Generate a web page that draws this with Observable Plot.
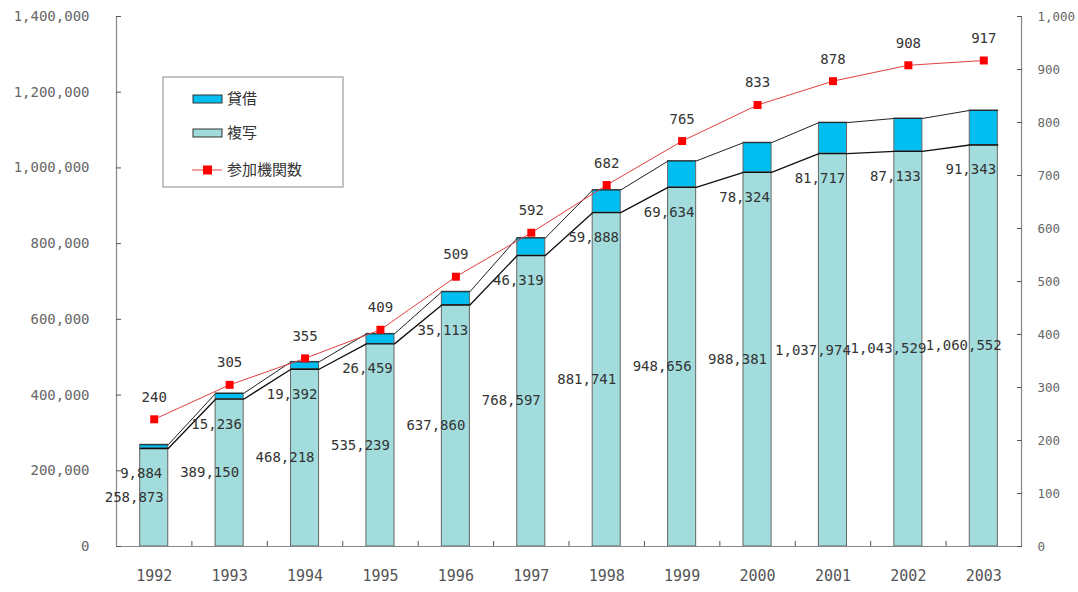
<!DOCTYPE html>
<html><head><meta charset="utf-8">
<script src="https://cdn.jsdelivr.net/npm/d3@7"></script>
<script src="https://cdn.jsdelivr.net/npm/@observablehq/plot@0.6"></script>
<style>body{margin:0;background:#fff}</style>
</head><body><div id="chart"></div>
<script>
const years = [1992,1993,1994,1995,1996,1997,1998,1999,2000,2001,2002,2003];
const copy = [258873,389150,468218,535239,637860,768597,881741,948656,988381,1037974,1043529,1060552]; // 複写
const loan = [9884,15236,19392,26459,35113,46319,59888,69634,78324,81717,87133,91343]; // 貸借
const members = [240,305,355,409,509,592,682,765,833,878,908,917]; // 参加機関数
const seriesNames = ["貸借","複写","参加機関数"];
const leftTicks = [0,200000,400000,600000,800000,1000000,1200000,1400000];
const rightTicks = [0,100,200,300,400,500,600,700,800,900,1000];

const Y_MAX = 1400000, R_MAX = 1000, K = Y_MAX / R_MAX;
const HW = 0.186;
const fmt = d3.format(",");
const rows = years.map((year, i) => ({year, copy: copy[i], loan: loan[i], total: copy[i] + loan[i], members: members[i]}));
const edge = rows.flatMap(d => [{...d, x: d.year - HW}, {...d, x: d.year + HW}]);
const C_COPY = "#a2dcdc", C_LOAN = "#00bff0", C_RED = "#ff0000";

const plot = Plot.plot({
  width: 1078, height: 592,
  marginLeft: 116, marginRight: 57, marginTop: 16, marginBottom: 46,
  style: {fontFamily: "'DejaVu Sans Mono', monospace", fontSize: "14px", color: "#555", background: "#fff"},
  x: {type: "linear", domain: [years[0] - 0.5, years[years.length - 1] + 0.5]},
  y: {domain: [0, Y_MAX]},
  marks: [
    Plot.rectY(rows, {x1: d => d.year - HW, x2: d => d.year + HW, y1: 0, y2: "copy", fill: C_COPY, stroke: "#666", strokeWidth: 1}),
    Plot.rectY(rows, {x1: d => d.year - HW, x2: d => d.year + HW, y1: "copy", y2: "total", fill: C_LOAN, stroke: "#666", strokeWidth: 1}),
    Plot.line(edge, {x: "x", y: "copy", stroke: "#111", strokeWidth: 1.3}),
    Plot.line(edge, {x: "x", y: "total", stroke: "#222", strokeWidth: 1}),
    Plot.ruleX([years[0] - 0.5, years[years.length - 1] + 0.5], {stroke: "#888", strokeWidth: 1.2}),
    Plot.ruleY([0], {stroke: "#888", strokeWidth: 1.2}),
    Plot.axisY({ticks: leftTicks, tickFormat: fmt, tickSize: -5, tickPadding: 32, label: null, fill: "#666"}),
    Plot.axisY({anchor: "right", ticks: rightTicks.map(v => v * K), tickFormat: v => fmt(Math.round(v / K)), tickSize: -5, tickPadding: 21, label: null, fill: "#666", fontSize: 12.5}),
    Plot.axisX({ticks: years.slice(0, -1).map(y => y + 0.5), tickSize: -5, tickFormat: () => "", label: null}),
    Plot.axisX({ticks: years, tickFormat: d => String(d), tickSize: 0, tickPadding: 24, label: null, fontSize: 15, fill: "#555"}),
    Plot.text(rows, {x: "year", y: d => d.copy / 2, text: d => fmt(d.copy), dx: -20, fill: "#333"}),
    Plot.text(rows, {x: "year", y: "copy", text: d => fmt(d.loan), dx: -13, dy: 25, fill: "#333"}),
    Plot.line(rows, {x: "year", y: d => d.members * K, stroke: "#e04040", strokeWidth: 1}),
    Plot.dot(rows, {x: "year", y: d => d.members * K, symbol: "square", r: 4.5, fill: C_RED, stroke: "none"}),
    Plot.text(rows, {x: "year", y: d => d.members * K, text: d => String(d.members), dy: -22, fill: "#333"})
  ]
});
document.getElementById("chart").appendChild(plot);

// legend inside plot area
const svg = d3.select(plot);
const lg = svg.append("g")
  .attr("font-family", "'Noto Sans CJK JP', sans-serif")
  .attr("font-size", 15).attr("fill", "#333").attr("text-anchor", "start");
lg.append("rect").attr("x", 163).attr("y", 77).attr("width", 180).attr("height", 110).attr("fill", "#fff").attr("stroke", "#888");
const swatches = [C_LOAN, C_COPY];
swatches.forEach((c, i) => {
  const cy = 99 + i * 34;
  lg.append("rect").attr("x", 193).attr("y", cy - 4).attr("width", 29).attr("height", 8).attr("fill", c).attr("stroke", "#333");
  lg.append("text").attr("x", 227).attr("y", cy).attr("dy", "0.35em").attr("text-anchor", "start").text(seriesNames[i]);
});
const ly = 170;
lg.append("line").attr("x1", 192).attr("x2", 222).attr("y1", ly).attr("y2", ly).attr("stroke", "#e04040");
lg.append("rect").attr("x", 203).attr("y", ly - 4.5).attr("width", 9).attr("height", 9).attr("fill", C_RED);
lg.append("text").attr("x", 227).attr("y", ly).attr("dy", "0.35em").attr("text-anchor", "start").text(seriesNames[2]);
</script>
</body></html>
